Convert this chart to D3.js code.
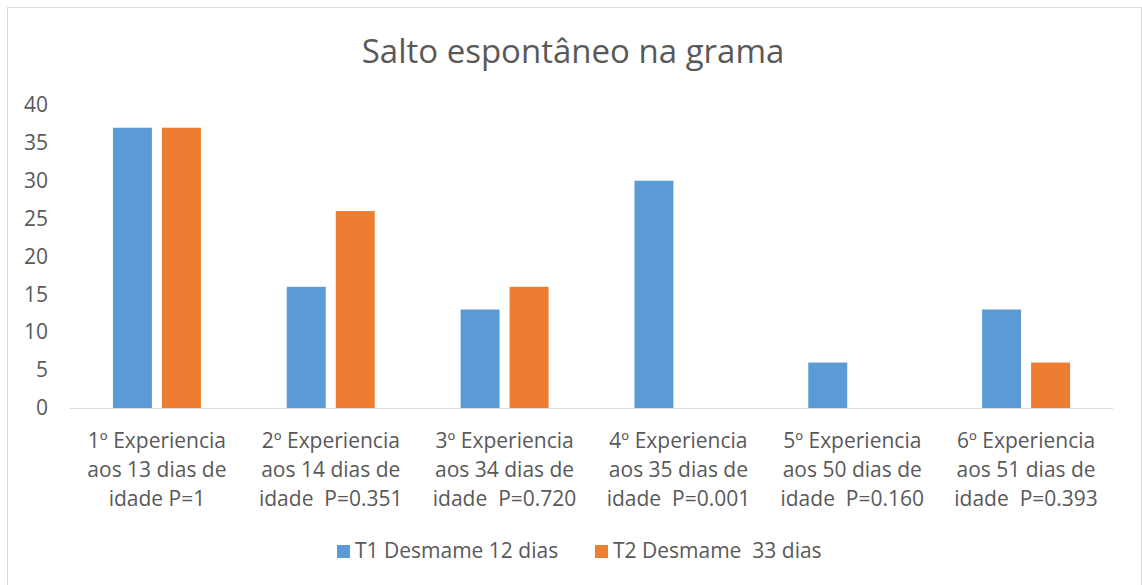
<!DOCTYPE html>
<html>
<head>
<meta charset="utf-8">
<script src="https://cdn.jsdelivr.net/npm/d3@7"></script>
<style>
  body { margin: 0; background: #fff; }
  text { font-family: "Open Sans", sans-serif; fill: #595959; }
</style>
</head>
<body>
<svg></svg>
<script>
var categories = [
  ["1º Experiencia", "aos 13 dias de", "idade P=1"],
  ["2º Experiencia", "aos 14 dias de", "idade  P=0.351"],
  ["3º Experiencia", "aos 34 dias de", "idade  P=0.720"],
  ["4º Experiencia", "aos 35 dias de", "idade  P=0.001"],
  ["5º Experiencia", "aos 50 dias de", "idade  P=0.160"],
  ["6º Experiencia", "aos 51 dias de", "idade  P=0.393"]
];
var seriesNames = ["T1 Desmame 12 dias", "T2 Desmame  33 dias"];
var t1Values = [37, 16, 13, 30, 6, 13];
var t2Values = [37, 26, 16, 0, 0, 6];
var yTicks = [0, 5, 10, 15, 20, 25, 30, 35, 40];
var colors = ["#5b9bd5", "#ed7d31"];

/* d3.js setting */
var svgWidth = 1142;
var svgHeight = 585;
var margin = {top: 105, right: 29, bottom: 177, left: 70};
var width = svgWidth - margin.left - margin.right;
var height = svgHeight - margin.top - margin.bottom;

var svg = d3.select("svg")
    .attr('width', svgWidth)
    .attr('height', svgHeight);

// chart frame
svg.append('rect')
    .attr('x', 7.5).attr('y', 7.5)
    .attr('width', svgWidth - 8).attr('height', svgHeight)
    .attr('fill', 'none')
    .attr('stroke', '#d9d9d9');

svg.append('text')
    .attr('x', 573).attr('y', 63)
    .attr('text-anchor', 'middle')
    .style('font-size', '33px')
    .text("Salto espontâneo na grama");

var x0 = d3.scaleBand()
    .domain(d3.range(categories.length))
    .range([0, width]);

var barW = 39;
var gap = 10;

var y = d3.scaleLinear()
    .domain([0, 40])
    .range([height, 0]);

var g = svg.append('g')
    .attr('transform', translate(margin.left, margin.top));

var data = categories.map(function(c, i){
  return [t1Values[i], t2Values[i]];
});

var groups = g.selectAll('.grp')
    .data(data)
    .enter()
    .append('g')
    .attr('class', 'grp')
    .attr('transform', function(d, i){ return translate(x0(i) + x0.bandwidth()/2, 0); });

groups.selectAll('rect')
    .data(function(d){ return d; })
    .enter()
    .append('rect')
    .attr('x', function(d, j){ return j === 0 ? -barW - gap/2 : gap/2; })
    .attr('y', function(d){ return y(d); })
    .attr('width', barW)
    .attr('height', function(d){ return height - y(d); })
    .attr('fill', function(d, j){ return colors[j]; });

// y axis labels (no line)
var yAxis = g.append('g')
    .call(d3.axisLeft(y).tickValues(yTicks).tickSize(0).tickPadding(22));
yAxis.select('.domain').remove();
yAxis.selectAll('text')
    .style('font-size', '21px')
    .style('font-family', '"Open Sans", sans-serif')
    .attr('fill', '#595959');

// x axis baseline
g.append('line')
    .attr('x1', 0).attr('x2', width)
    .attr('y1', height + 0.5).attr('y2', height + 0.5)
    .attr('stroke', '#d9d9d9');

// category labels
var labels = g.selectAll('.cat')
    .data(categories)
    .enter()
    .append('text')
    .attr('class', 'cat')
    .attr('text-anchor', 'middle')
    .attr('transform', function(d, i){ return translate(x0(i) + x0.bandwidth()/2, height + 40); })
    .style('font-size', '21px');

labels.selectAll('tspan')
    .data(function(d){ return d; })
    .enter()
    .append('tspan')
    .attr('x', 0)
    .attr('dy', function(d, k){ return k === 0 ? 0 : 29; })
    .style('white-space', 'pre')
    .attr('xml:space', 'preserve')
    .text(function(d){ return d; });

// legend
var legendX = [337, 595];
var legend = svg.selectAll('.leg')
    .data(seriesNames)
    .enter()
    .append('g')
    .attr('class', 'leg')
    .attr('transform', function(d, i){ return translate(legendX[i], 545); });

legend.append('rect')
    .attr('width', 13).attr('height', 13)
    .attr('fill', function(d, i){ return colors[i]; });

legend.append('text')
    .attr('x', 18).attr('y', 13)
    .style('font-size', '21px')
    .attr('xml:space', 'preserve')
    .style('white-space', 'pre')
    .text(function(d){ return d; });

function translate(x, y) {
  return 'translate(' + x + ',' + y + ')';
}
</script>
</body>
</html>
